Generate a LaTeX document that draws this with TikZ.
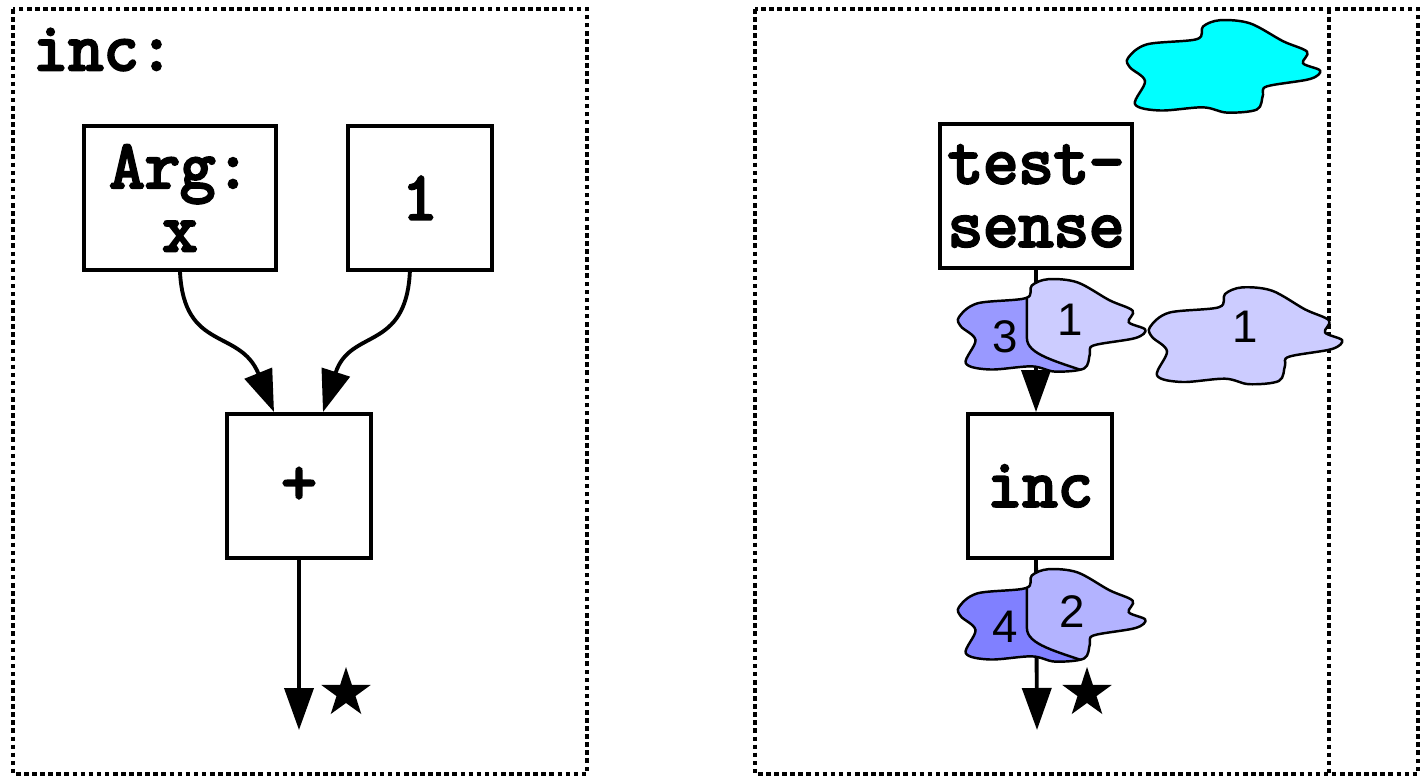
\documentclass[tikz,border=0pt]{standalone}
\usepackage{fontspec}
\usepackage{tikz}
\usetikzlibrary{arrows.meta,positioning,shapes.geometric}

\newfontfamily\digitfont{Liberation Sans}
\newfontfamily\codefamily{Latin Modern Mono}[FakeBold=4]
\newcommand{\codefont}{\fontsize{19.5}{18}\selectfont\codefamily}

% generic blob outline, left tip at the origin
\def\blobshape{plot[smooth cycle, tension=0.55] coordinates {(0,0) (0.19,0.13) (0.69,0.18) (0.75,0.30) (0.92,0.36) (1.22,0.33) (1.55,0.16) (1.79,0.06) (1.75,-0.05) (1.92,-0.12) (1.82,-0.20) (1.39,-0.27) (1.35,-0.35) (1.29,-0.49) (0.99,-0.52) (0.75,-0.47) (0.32,-0.50) (0.07,-0.44) (0.17,-0.22) (0.02,-0.09)}}

\definecolor{tokA}{RGB}{204,204,255}
\definecolor{tokB}{RGB}{153,153,255}
\definecolor{tokC}{RGB}{179,179,255}
\definecolor{tokD}{RGB}{128,128,255}
\definecolor{tokE}{RGB}{0,255,255}

\begin{document}
\begin{tikzpicture}[>={Triangle[length=4.2mm, width=2.9mm]}, line width=1.1pt]
    % Styles
    \tikzstyle{frame} = [draw, line width=1.1pt, dash pattern=on 1.3pt off 1.0pt]
    \tikzstyle{opbox} = [rectangle, draw, fill=white, minimum width=1.44cm, minimum height=1.44cm, inner sep=0pt, align=center, font=\codefont]
    \tikzstyle{widebox} = [opbox, minimum width=1.92cm]
    \tikzstyle{blobline} = [draw, line width=0.7pt]
    \tikzstyle{bloblabel} = [inner sep=0pt, font=\digitfont\fontsize{13}{13}\selectfont]
    \tikzstyle{starmark} = [star, star points=5, star point ratio=2.6, fill=black, minimum size=0.52cm, inner sep=0pt]
    \tikzstyle{line} = [draw, ->]

    \useasboundingbox (0,0) rectangle (14.21,-7.77);

    % Frames
    \draw[frame] (0.13,-0.09) rectangle (5.87,-7.74);
    \draw[frame] (7.55,-0.09) rectangle (14.18,-7.74);
    \draw[frame] (13.29,-0.09) -- (13.29,-7.74);

    % Left: definition of inc
    \node[anchor=base west, inner sep=0pt, font=\codefont] (title) at (0.31,-0.70) {inc:};
    \node[widebox] (arg) at (1.80,-1.98) {Arg:\\x};
    \node[opbox, right=0.68cm of arg] (one) {1};
    \node[opbox] (plus) at (2.99,-4.86) {+};
    \coordinate (plusout) at (2.99,-7.30);
    \node[starmark] (plusmark) at (3.46,-6.93) {};

    \draw[->] (arg.south) .. controls +(0.04,-0.80) and +(-0.34,0.84) .. ([xshift=-2.5mm]plus.north);
    \draw[->] ([xshift=-1mm]one.south) .. controls +(-0.04,-0.80) and +(0.27,0.84) .. ([xshift=2.4mm]plus.north);
    \path[line] (plus.south) -- (plusout);

    % Right: a call of inc
    \node[widebox] (sense) at (10.36,-1.96) {test-\\sense};
    \node[opbox] (inc) at (10.40,-4.86) {inc};
    \coordinate (incout) at (10.37,-7.30);
    \node[starmark] (incmark) at (10.87,-6.93) {};

    \path[line] (sense.south) -- (sense.south |- inc.north);
    \path[line] (inc.south -| sense.south) -- (incout);

    % Tokens
    \begin{scope}[shift={(11.28,-0.58)}, yscale=1.05]
        \fill[tokE] \blobshape;
        \draw[blobline] \blobshape;
    \end{scope}
    \begin{scope}[shift={(11.50,-3.27)}, yscale=1.1]
        \fill[tokA] \blobshape;
        \draw[blobline] \blobshape;
    \end{scope}
    \foreach \y/\back/\front in {-3.17/tokB/tokA, -6.07/tokD/tokC} {
        \begin{scope}[shift={(9.59,\y)}, xscale=0.97, yscale=1.05]
            \fill[\back] \blobshape;
            \begin{scope}
                \clip \blobshape;
                \fill[\front] (0.70,1) -- (0.70,-0.2) .. controls (0.70,-0.36) and (1.0,-0.42) .. (1.40,-0.55) -- (2.5,-0.55) -- (2.5,1) -- cycle;
                \draw[blobline] (0.70,1) -- (0.70,-0.2) .. controls (0.70,-0.36) and (1.0,-0.42) .. (1.40,-0.55);
            \end{scope}
            \draw[blobline] \blobshape;
        \end{scope}
    }
    \node[bloblabel] (t3) at (10.05,-3.37) {3};
    \node[bloblabel] (t1) at (10.70,-3.20) {1};
    \node[bloblabel] (t1b) at (12.45,-3.27) {1};
    \node[bloblabel] (t4) at (10.05,-6.27) {4};
    \node[bloblabel] (t2) at (10.72,-6.12) {2};
\end{tikzpicture}
\end{document}
